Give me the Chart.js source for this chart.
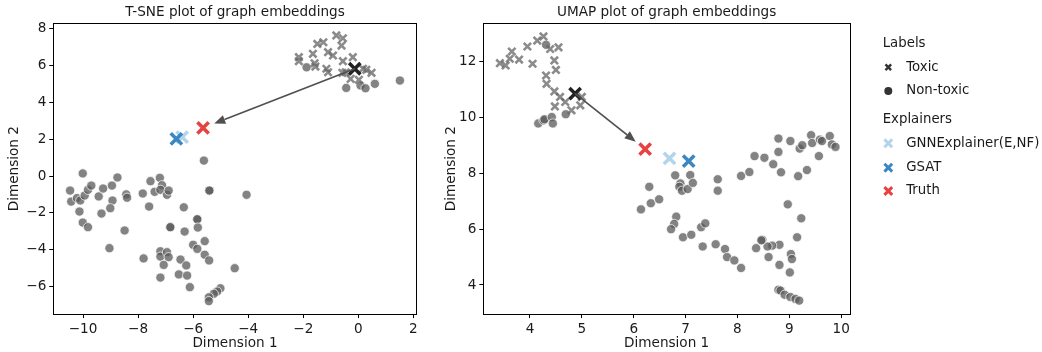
<!DOCTYPE html>
<html>
<head>
<meta charset="utf-8">
<script src="https://cdn.jsdelivr.net/npm/chart.js@4.4.1/dist/chart.umd.min.js"></script>
<style>
  html, body { margin: 0; padding: 0; background: #fff; }
  #wrap { position: relative; width: 1042px; height: 352px; }
  canvas { position: absolute; top: 0; }
  #tsne-chart { left: 0; }
  #umap-chart { left: 430px; }
</style>
</head>
<body>
<div id="wrap">
  <canvas id="tsne-chart" width="430" height="352"></canvas>
  <canvas id="umap-chart" width="612" height="352"></canvas>
</div>
<script>
// data: T-SNE
const tsneToxic = [
  [-2.16, 6.46], [-2.16, 6.24], [-1.65, 6.64], [-1.49, 7.18], [-1.27, 7.27], [-0.8, 7.64], [-0.56, 7.49],
  [-0.61, 7.09], [-1.1, 6.73], [-0.92, 6.55], [-1.59, 6.13], [-1.56, 5.95], [-1.16, 5.83], [-1.1, 5.64],
  [-0.56, 6.24], [-0.2, 6.46], [-0.58, 5.61], [-0.28, 5.28], [0.02, 5.23], [0.17, 5.83], [0.29, 5.77],
  [0.48, 5.61], [-0.46, 5.64],
]
const tsneNonToxic = [
  [-1.88, 5.91], [-0.44, 4.79], [0.08, 4.92], [0.26, 4.77], [0.6, 5.01], [1.51, 5.19],
  [-5.61, 0.84], [-5.41, -0.79], [-5.41, -0.79], [-4.06, -1.02], [-10.01, 0.14], [-10.47, -0.79], [-10.43, -1.39],
  [-10.22, -1.2], [-10.1, -1.33], [-9.94, -1.06], [-9.82, -0.75], [-9.7, -0.52], [-10.13, -1.93], [-10.01, -2.53],
  [-9.82, -2.78], [-9.43, -1.11], [-9.27, -0.68], [-8.95, -0.52], [-8.75, -0.08], [-8.93, -1.33], [-9.01, -1.75],
  [-9.33, -2.04], [-9.04, -3.92], [-8.49, -2.96], [-8.43, -1.0], [-8.4, -1.18], [-7.83, -0.95], [-7.55, -0.28],
  [-7.21, -0.1], [-7.13, -0.5], [-7.4, -0.86], [-7.19, -0.75], [-6.95, -1.02], [-6.89, -0.79], [-7.6, -1.66],
  [-6.34, -1.7], [-6.83, -2.78], [-6.83, -2.78], [-6.31, -3.02], [-5.85, -2.35], [-5.85, -2.35], [-5.83, -2.8],
  [-6.0, -3.74], [-5.85, -3.96], [-5.58, -3.54], [-5.58, -4.28], [-5.42, -4.59], [-7.8, -4.48], [-7.19, -4.09],
  [-7.19, -4.38], [-6.95, -4.14], [-6.89, -4.41], [-7.07, -4.83], [-6.46, -4.54], [-6.25, -4.86], [-6.52, -5.35],
  [-6.22, -5.41], [-6.12, -6.04], [-7.19, -5.52], [-4.49, -5.01], [-5.01, -6.1], [-5.13, -6.28], [-5.25, -6.4],
  [-5.43, -6.59], [-5.43, -6.8],
]
const tsneCentroid = [[-0.13, 5.83]]
const tsneGnnExplainer = [[-6.4, 2.11]]
const tsneGsat = [[-6.61, 2.02]]
const tsneTruth = [[-5.64, 2.62]]
const tsneXTicks = [-10, -8, -6, -4, -2, 0, 2]
const tsneYTicks = [-6, -4, -2, 0, 2, 4, 6, 8]

// data: UMAP
const umapToxic = [
  [3.42, 11.95], [3.53, 11.87], [3.65, 12.37], [3.61, 12.11], [3.79, 12.08], [3.95, 12.55], [4.05, 11.93],
  [4.14, 12.76], [4.26, 12.91], [4.39, 12.46], [4.55, 12.52], [4.47, 12.05], [4.5, 11.71], [4.31, 11.51],
  [4.32, 11.21], [4.47, 10.94], [4.58, 10.74], [4.68, 10.56], [4.48, 10.4], [4.8, 10.26], [4.97, 10.44],
  [5.0, 10.74],
]
const umapNonToxic = [
  [4.31, 12.61], [4.16, 9.79], [4.26, 9.9], [4.28, 9.94], [4.42, 10.02], [4.44, 9.79], [4.69, 10.12],
  [6.14, 6.71], [6.3, 7.52], [6.33, 6.93], [6.49, 7.07], [6.8, 7.93], [6.9, 7.64], [6.88, 7.52], [6.93, 7.38],
  [7.04, 7.44], [7.09, 7.94], [7.14, 7.66], [6.82, 6.45], [6.78, 6.19], [6.72, 6.0], [6.95, 5.71], [7.11, 5.8],
  [7.3, 6.07], [7.38, 6.21], [7.33, 5.38], [7.58, 5.46], [7.62, 7.79], [7.62, 7.38], [7.76, 5.29], [7.8, 5.0],
  [7.94, 4.88], [8.07, 4.61], [8.07, 7.91], [8.23, 8.05], [8.33, 8.62], [8.52, 8.56], [8.69, 8.33], [8.79, 9.25],
  [8.79, 8.77], [8.84, 8.04], [9.02, 9.16], [9.17, 7.9], [9.2, 8.89], [9.25, 9.01], [9.34, 8.12], [9.42, 9.37],
  [9.44, 9.09], [9.57, 8.62], [9.59, 9.21], [9.63, 9.16], [9.78, 9.34], [9.82, 9.04], [9.89, 8.95], [8.97, 6.89],
  [9.23, 6.39], [9.15, 5.71], [9.03, 5.11], [9.05, 4.93], [9.01, 4.45], [8.81, 4.72], [8.81, 5.44], [8.67, 5.41],
  [8.58, 5.38], [8.6, 5.0], [8.48, 5.62], [8.46, 5.6], [8.36, 5.32], [8.79, 3.83], [8.83, 3.8], [8.91, 3.65],
  [9.02, 3.57], [9.12, 3.5], [9.19, 3.44],
]
const umapCentroid = [[4.87, 10.86]]
const umapGnnExplainer = [[6.69, 8.54]]
const umapGsat = [[7.06, 8.44]]
const umapTruth = [[6.22, 8.87]]
const umapXTicks = [4, 5, 6, 7, 8, 9, 10]
const umapYTicks = [4, 6, 8, 10, 12]

// styles
const fontFamily = "'DejaVu Sans', sans-serif"
const fontSize = 13.6
const legendFontSize = 13.3
const pointGray = 'rgba(90, 90, 90, 0.75)'
const crossGray = 'rgba(100, 100, 100, 0.75)'
const gnnColor = '#b3d5ea'
const gsatColor = '#3a88c2'
const truthColor = '#e8413f'
const centroidColor = '#222222'

const toPoints = (arr) => arr.map((p) => ({ x: p[0], y: p[1] }))
const minusSign = (v) => String(v).replace('-', '\u2212')

// frame round the plot area
const framePlugin = {
  id: 'frame',
  afterDatasetsDraw(chart) {
    const { ctx, chartArea } = chart
    ctx.save()
    ctx.strokeStyle = '#000'
    ctx.lineWidth = 1
    ctx.strokeRect(Math.round(chartArea.left) + 0.5, Math.round(chartArea.top) + 0.5,
      Math.round(chartArea.right - chartArea.left), Math.round(chartArea.bottom - chartArea.top))
    ctx.restore()
  },
}

// arrow from centroid to truth
const arrowPlugin = {
  id: 'arrow',
  afterDatasetsDraw(chart, args, opts) {
    const { ctx } = chart
    const xs = chart.scales.x
    const ys = chart.scales.y
    const x0 = xs.getPixelForValue(opts.from[0])
    const y0 = ys.getPixelForValue(opts.from[1])
    const x1 = xs.getPixelForValue(opts.to[0])
    const y1 = ys.getPixelForValue(opts.to[1])
    const len = Math.hypot(x1 - x0, y1 - y0)
    const ux = (x1 - x0) / len
    const uy = (y1 - y0) / len
    const tipX = x1 - ux * opts.shrink
    const tipY = y1 - uy * opts.shrink
    const headLen = 11
    const headW = 4.5
    const baseX = tipX - ux * headLen
    const baseY = tipY - uy * headLen
    ctx.save()
    ctx.strokeStyle = '#505050'
    ctx.fillStyle = '#505050'
    ctx.lineWidth = 1.7
    ctx.beginPath()
    ctx.moveTo(x0, y0)
    ctx.lineTo(baseX, baseY)
    ctx.stroke()
    ctx.beginPath()
    ctx.moveTo(tipX, tipY)
    ctx.lineTo(baseX - uy * headW, baseY + ux * headW)
    ctx.lineTo(baseX + uy * headW, baseY - ux * headW)
    ctx.closePath()
    ctx.fill()
    ctx.restore()
  },
}

// legend with two sections, right of the UMAP plot
const legendPlugin = {
  id: 'sectionLegend',
  afterDraw(chart) {
    const ctx = chart.ctx
    const headerX = 452.7
    const markerX = 458.3
    const textX = 476.2
    const rows = [
      { y: 43.3, text: 'Labels' },
      { y: 67.3, text: 'Toxic', style: 'crossRot', color: '#333333', radius: 4, width: 2.4 },
      { y: 91, text: 'Non-toxic', style: 'circle', color: '#333333', radius: 4 },
      { y: 120, text: 'Explainers' },
      { y: 143.3, text: 'GNNExplainer(E,NF)', style: 'crossRot', color: gnnColor, radius: 5.5, width: 3 },
      { y: 167.7, text: 'GSAT', style: 'crossRot', color: gsatColor, radius: 5.5, width: 3 },
      { y: 191, text: 'Truth', style: 'crossRot', color: truthColor, radius: 5.5, width: 3 },
    ]
    ctx.save()
    ctx.font = `${legendFontSize}px ${fontFamily}`
    ctx.textBaseline = 'middle'
    ctx.textAlign = 'left'
    rows.forEach((row) => {
      ctx.fillStyle = '#1a1a1a'
      if (!row.style) {
        ctx.fillText(row.text, headerX, row.y)
        return
      }
      ctx.fillText(row.text, textX, row.y)
      ctx.fillStyle = row.color
      ctx.strokeStyle = row.color
      ctx.lineWidth = row.width || 1
      Chart.helpers.drawPoint(ctx, { pointStyle: row.style, radius: row.radius, rotation: 0, borderWidth: row.width || 0 }, markerX, row.y)
    })
    ctx.restore()
  },
}

function axisOptions(min, max, ticks, title, isY, titlePad, fitSize) {
  return {
    type: 'linear',
    min: min,
    max: max,
    afterBuildTicks: (scale) => {
      scale.ticks = ticks.map((v) => ({ value: v }))
    },
    afterFit: (scale) => {
      if (isY) {
        scale.width = fitSize
      } else {
        scale.height = fitSize
      }
    },
    border: { display: false },
    grid: { drawOnChartArea: false, drawTicks: true, tickLength: 4, color: '#000', lineWidth: 1 },
    ticks: {
      color: '#1a1a1a',
      padding: 3,
      maxRotation: 0,
      font: { family: fontFamily, size: fontSize },
      callback: (v) => minusSign(v),
    },
    title: {
      display: true,
      text: title,
      color: '#1a1a1a',
      font: { family: fontFamily, size: fontSize },
      padding: isY ? { top: titlePad, bottom: 0 } : { top: 0, bottom: titlePad },
    },
  }
}

function printEmbeddingChart(canvasId, cfg) {
  const ctx = document.querySelector(canvasId)
  const plugins = [framePlugin, arrowPlugin]
  if (cfg.withLegend) plugins.push(legendPlugin)
  return new Chart(ctx, {
    type: 'scatter',
    data: {
      datasets: [
        {
          label: 'Truth',
          data: toPoints(cfg.truth),
          pointStyle: 'crossRot',
          pointRadius: 8,
          borderWidth: 3.5,
          borderColor: truthColor,
          backgroundColor: truthColor,
          order: 1,
        },
        {
          label: 'GSAT',
          data: toPoints(cfg.gsat),
          pointStyle: 'crossRot',
          pointRadius: 8,
          borderWidth: 3.5,
          borderColor: gsatColor,
          backgroundColor: gsatColor,
          order: 2,
        },
        {
          label: 'GNNExplainer(E,NF)',
          data: toPoints(cfg.gnn),
          pointStyle: 'crossRot',
          pointRadius: 8,
          borderWidth: 3.5,
          borderColor: gnnColor,
          backgroundColor: gnnColor,
          order: 3,
        },
        {
          label: 'Toxic centroid',
          data: toPoints(cfg.centroid),
          pointStyle: 'crossRot',
          pointRadius: 8,
          borderWidth: 3.5,
          borderColor: centroidColor,
          backgroundColor: centroidColor,
          order: 4,
        },
        {
          label: 'Toxic',
          data: toPoints(cfg.toxic),
          pointStyle: 'crossRot',
          pointRadius: 5.2,
          borderWidth: 2.6,
          borderColor: crossGray,
          backgroundColor: crossGray,
          order: 5,
        },
        {
          label: 'Non-toxic',
          data: toPoints(cfg.nonToxic),
          pointStyle: 'circle',
          pointRadius: 4.6,
          borderWidth: 0.8,
          borderColor: 'rgba(255, 255, 255, 0.9)',
          backgroundColor: pointGray,
          order: 6,
        },
      ],
    },
    options: {
      responsive: false,
      animation: false,
      devicePixelRatio: 1,
      events: [],
      layout: { padding: { left: 0, right: cfg.padRight, top: 0, bottom: 0 } },
      scales: {
        x: axisOptions(cfg.xMin, cfg.xMax, cfg.xTicks, 'Dimension 1', false, 0, 38),
        y: axisOptions(cfg.yMin, cfg.yMax, cfg.yTicks, 'Dimension 2', true, cfg.yTitlePad, 53.3),
      },
      plugins: {
        legend: { display: false },
        tooltip: { enabled: false },
        title: {
          display: true,
          text: cfg.title,
          fullSize: false,
          color: '#1a1a1a',
          font: { family: fontFamily, size: fontSize, weight: 'normal' },
          padding: { top: 4, bottom: 3 },
        },
        arrow: { from: cfg.centroid[0], to: cfg.truth[0], shrink: 12 },
      },
    },
    plugins: plugins,
  })
}

// main script
printEmbeddingChart('#tsne-chart', {
  title: 'T-SNE plot of graph embeddings',
  toxic: tsneToxic,
  nonToxic: tsneNonToxic,
  centroid: tsneCentroid,
  gnn: tsneGnnExplainer,
  gsat: tsneGsat,
  truth: tsneTruth,
  xMin: -11.08,
  xMax: 2.12,
  yMin: -7.5,
  yMax: 8.3,
  xTicks: tsneXTicks,
  yTicks: tsneYTicks,
  padRight: 13.3,
  yTitlePad: 6,
  withLegend: false,
})

printEmbeddingChart('#umap-chart', {
  title: 'UMAP plot of graph embeddings',
  toxic: umapToxic,
  nonToxic: umapNonToxic,
  centroid: umapCentroid,
  gnn: umapGnnExplainer,
  gsat: umapGsat,
  truth: umapTruth,
  xMin: 3.1,
  xMax: 10.17,
  yMin: 2.96,
  yMax: 13.38,
  xTicks: umapXTicks,
  yTicks: umapYTicks,
  padRight: 192,
  yTitlePad: 13,
  withLegend: true,
})
</script>
</body>
</html>
